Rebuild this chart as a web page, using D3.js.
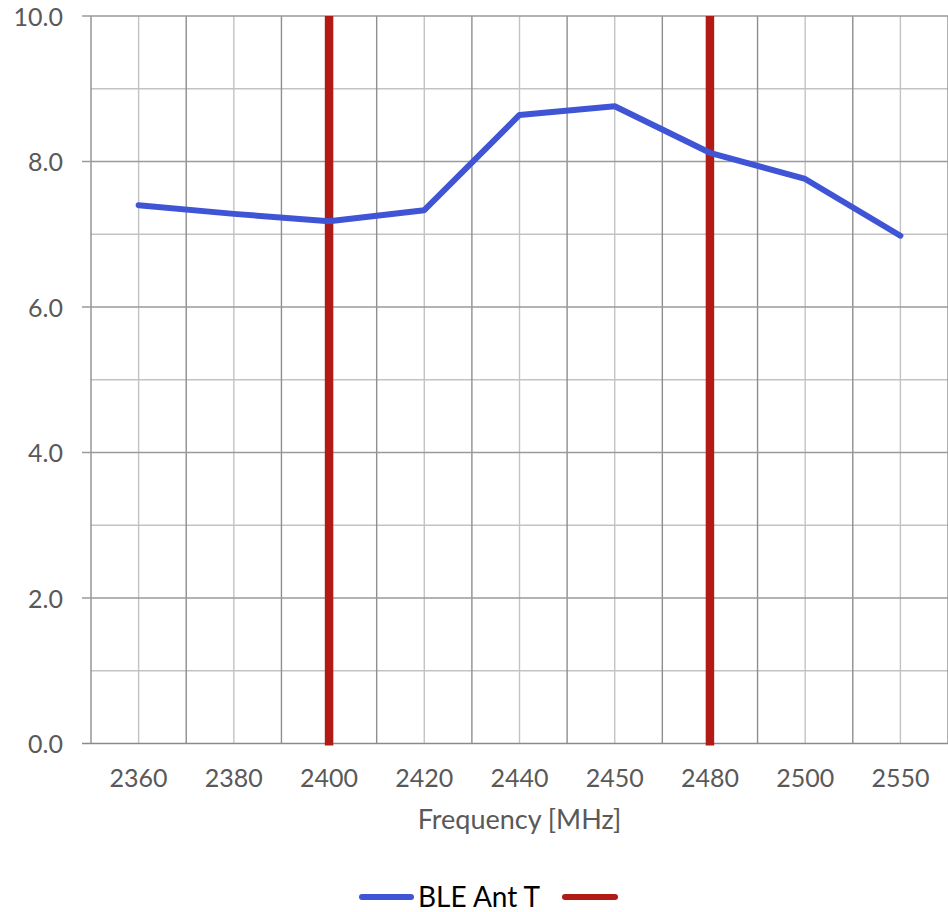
<!DOCTYPE html>
<html><head><meta charset="utf-8">
<script src="https://cdn.jsdelivr.net/npm/d3@7"></script>
<style>
html,body{margin:0;padding:0;background:#fff;}
svg{display:block;}
text{font-family:Lato,"Open Sans",sans-serif;}
</style></head>
<body><svg id="c" width="948" height="912"></svg>
<script>
// ---- data ----
const categories = ["2360","2380","2400","2420","2440","2450","2480","2500","2550"];
const bleAntT = [7.40, 7.28, 7.18, 7.33, 8.64, 8.76, 8.12, 7.76, 6.98];
const markerCategories = ["2400","2480"];
const markerRange = [0, 10];
const yTicks = [0, 2, 4, 6, 8, 10];
const yMinorTicks = [1, 3, 5, 7, 9];
const seriesNames = ["BLE Ant T", ""];
const xTitle = "Frequency [MHz]";

// ---- layout ----
const svg = d3.select("#c");
const L = 91, R = 948, T = 16, B = 743.5;
const blue = "#4055D6", red = "#B21B15";

const x = d3.scaleBand().domain(categories).range([L, R]).padding(0);
const y = d3.scaleLinear().domain([0, 10]).range([B, T]);
const cx = c => x(c) + x.bandwidth() / 2;

const g = svg.append("g");

// minor horizontal gridlines
g.selectAll(".hmin").data(yMinorTicks).enter().append("line")
  .attr("x1", L).attr("x2", R).attr("y1", d => y(d)).attr("y2", d => y(d))
  .attr("stroke", "#c3c3c3").attr("stroke-width", 1.4);
// minor vertical gridlines (category centres)
g.selectAll(".vmin").data(categories).enter().append("line")
  .attr("x1", d => cx(d)).attr("x2", d => cx(d)).attr("y1", T).attr("y2", B)
  .attr("stroke", "#c3c3c3").attr("stroke-width", 1.4);
// major vertical gridlines (category boundaries)
const bounds = categories.map(c => x(c)).concat([R]);
g.selectAll(".vmaj").data(bounds).enter().append("line")
  .attr("x1", d => d).attr("x2", d => d).attr("y1", T).attr("y2", B)
  .attr("stroke", "#8e8e8e").attr("stroke-width", 1.4);
// major horizontal gridlines
g.selectAll(".hmaj").data(yTicks).enter().append("line")
  .attr("x1", L - 9).attr("x2", R).attr("y1", d => y(d)).attr("y2", d => y(d))
  .attr("stroke", d => d === 0 ? "#8a8a8a" : "#9a9a9a").attr("stroke-width", 1.5);

// y axis labels
const yAxis = d3.axisLeft(y).tickValues(yTicks).tickFormat(d3.format(".1f")).tickSize(0).tickPadding(0);
const ya = svg.append("g").attr("transform", `translate(${63},0)`).call(yAxis);
ya.select(".domain").remove();
ya.selectAll("text").attr("font-size", 25).attr("fill", "#595959")
  .attr("font-family", "Lato, 'Open Sans', sans-serif").attr("dy", "0.36em");

// x axis labels
const xAxis = d3.axisBottom(x).tickSize(0).tickPadding(0);
const xa = svg.append("g").attr("transform", `translate(0,${B})`).call(xAxis);
xa.select(".domain").remove();
xa.selectAll("text").attr("font-size", 25).attr("fill", "#595959")
  .attr("font-family", "Lato, 'Open Sans', sans-serif").attr("y", 43.5).attr("dy", 0);

// axis title
svg.append("text").attr("x", (L + R) / 2).attr("y", 829).attr("text-anchor", "middle")
  .attr("font-size", 27).attr("fill", "#595959").text(xTitle);

// red marker lines
g.selectAll(".mk").data(markerCategories).enter().append("line")
  .attr("x1", d => cx(d)).attr("x2", d => cx(d))
  .attr("y1", y(markerRange[1])).attr("y2", y(markerRange[0]) + 2)
  .attr("stroke", red).attr("stroke-width", 8.5);

// blue line
const line = d3.line().x((d, i) => cx(categories[i])).y(d => y(d));
g.append("path").datum(bleAntT).attr("d", line)
  .attr("fill", "none").attr("stroke", blue).attr("stroke-width", 6)
  .attr("stroke-linejoin", "round").attr("stroke-linecap", "round");

// legend
const lg = svg.append("g");
lg.append("line").attr("x1", 362).attr("x2", 411).attr("y1", 897).attr("y2", 897)
  .attr("stroke", blue).attr("stroke-width", 6).attr("stroke-linecap", "round");
lg.append("text").attr("x", 418).attr("y", 907).attr("font-size", 28).attr("fill", "#000").text(seriesNames[0]);
lg.append("line").attr("x1", 565).attr("x2", 615).attr("y1", 897).attr("y2", 897)
  .attr("stroke", red).attr("stroke-width", 6).attr("stroke-linecap", "round");
</script></body></html>
